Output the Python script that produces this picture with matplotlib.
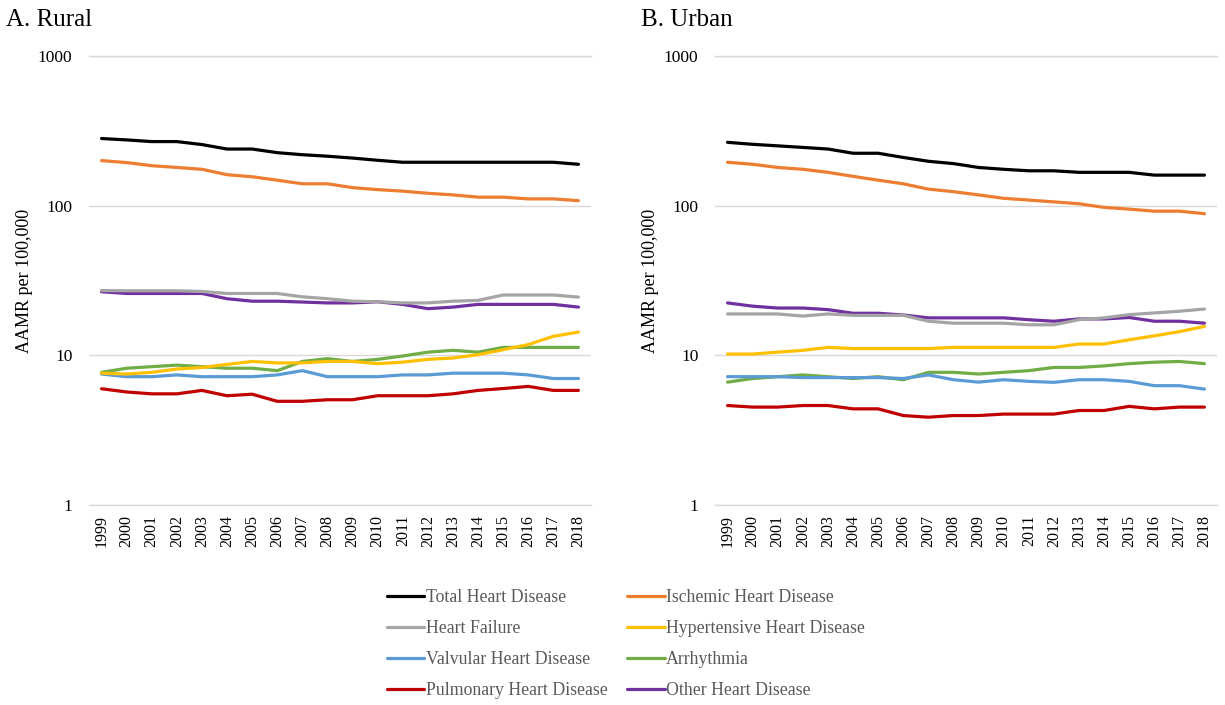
import matplotlib
matplotlib.use("Agg")
import matplotlib.pyplot as plt
from matplotlib.ticker import FixedLocator, FixedFormatter, NullLocator

plt.rcParams["font.family"] = ["Liberation Serif", "DejaVu Serif"]

years = list(range(1999, 2019))

# AAMR per 100,000
rural_total = [281, 275, 268, 268, 256, 239, 239, 226, 219, 214, 208, 201, 195, 195, 195, 195, 195, 195, 195, 189]
rural_ischemic = [200, 194, 185, 180, 175, 161, 156, 148, 140, 140, 132, 128, 125, 121, 118, 114, 114, 111, 111, 108]
rural_hf = [27.1, 27.0, 27.0, 27.0, 26.7, 25.9, 25.9, 25.9, 24.6, 23.9, 23.0, 22.8, 22.4, 22.4, 23.0, 23.3, 25.3, 25.3, 25.3, 24.5]
rural_hypertensive = [7.6, 7.5, 7.7, 8.1, 8.3, 8.7, 9.1, 8.9, 8.9, 9.1, 9.1, 8.8, 9.0, 9.4, 9.6, 10.1, 10.9, 11.8, 13.4, 14.3]
rural_valvular = [7.5, 7.2, 7.2, 7.4, 7.2, 7.2, 7.2, 7.4, 7.9, 7.2, 7.2, 7.2, 7.4, 7.4, 7.6, 7.6, 7.6, 7.4, 7.0, 7.0]
rural_arrhythmia = [7.7, 8.2, 8.4, 8.6, 8.4, 8.2, 8.2, 7.9, 9.1, 9.5, 9.1, 9.4, 9.9, 10.5, 10.8, 10.5, 11.3, 11.3, 11.3, 11.3]
rural_pulmonary = [5.98, 5.69, 5.53, 5.53, 5.83, 5.37, 5.5, 4.93, 4.93, 5.05, 5.05, 5.37, 5.37, 5.37, 5.53, 5.83, 6.0, 6.2, 5.83, 5.83]
rural_other = [26.6, 25.9, 25.9, 25.9, 25.9, 23.9, 23.0, 23.0, 22.7, 22.4, 22.4, 22.8, 21.9, 20.5, 21.0, 21.9, 21.9, 21.9, 21.9, 21.0]

urban_total = [265, 257, 251, 245, 239, 224, 224, 210, 198, 191, 180, 175, 171, 171, 167, 167, 167, 160, 160, 160]
urban_ischemic = [195, 189, 180, 175, 167, 157, 148, 140, 129, 124, 118, 112, 109, 106, 103, 97.4, 94.8, 91.9, 91.9, 88.4]
urban_hf = [18.9, 18.9, 18.9, 18.3, 18.9, 18.5, 18.5, 18.5, 16.9, 16.4, 16.4, 16.4, 16.0, 16.0, 17.3, 17.8, 18.7, 19.2, 19.7, 20.4]
urban_hypertensive = [10.2, 10.2, 10.5, 10.8, 11.3, 11.1, 11.1, 11.1, 11.1, 11.3, 11.3, 11.3, 11.3, 11.3, 11.9, 11.9, 12.7, 13.5, 14.4, 15.6]
urban_valvular = [7.2, 7.2, 7.2, 7.1, 7.1, 7.1, 7.1, 7.0, 7.4, 6.87, 6.62, 6.87, 6.7, 6.6, 6.87, 6.87, 6.7, 6.27, 6.27, 5.95]
urban_arrhythmia = [6.62, 7.0, 7.2, 7.4, 7.2, 7.0, 7.2, 6.87, 7.7, 7.7, 7.5, 7.7, 7.9, 8.3, 8.3, 8.5, 8.8, 9.0, 9.1, 8.8]
urban_pulmonary = [4.62, 4.51, 4.51, 4.62, 4.62, 4.39, 4.39, 3.96, 3.86, 3.96, 3.96, 4.05, 4.05, 4.05, 4.28, 4.28, 4.56, 4.39, 4.51, 4.51]
urban_other = [22.4, 21.3, 20.7, 20.7, 20.2, 19.1, 19.1, 18.6, 17.8, 17.8, 17.8, 17.8, 17.3, 16.9, 17.5, 17.5, 17.9, 16.9, 16.9, 16.4]

series_names = ["Total Heart Disease", "Ischemic Heart Disease", "Heart Failure",
                "Hypertensive Heart Disease", "Valvular Heart Disease", "Arrhythmia",
                "Pulmonary Heart Disease", "Other Heart Disease"]
colors = ["#000000", "#ED7D31", "#A5A5A5", "#FFC000", "#5B9BD5", "#70AD47", "#C00000", "#7030A0"]

rural = [rural_total, rural_ischemic, rural_hf, rural_hypertensive,
         rural_valvular, rural_arrhythmia, rural_pulmonary, rural_other]
urban = [urban_total, urban_ischemic, urban_hf, urban_hypertensive,
         urban_valvular, urban_arrhythmia, urban_pulmonary, urban_other]

fig = plt.figure(figsize=(12.25, 7.05), dpi=100)
ax_r = fig.add_axes([89 / 1225, 1 - 505 / 705, 502 / 1225, 449 / 705])
ax_u = fig.add_axes([715 / 1225, 1 - 505 / 705, 502 / 1225, 449 / 705])

# draw order so the top lines sit as in the original
draw_order = [7, 6, 5, 4, 3, 2, 1, 0]
handles = {}
for ax, data in [(ax_r, rural), (ax_u, urban)]:
    x = list(range(len(years)))
    for k in draw_order:
        (ln,) = ax.plot(x, data[k], color=colors[k], lw=2.3, solid_capstyle="round",
                        label=series_names[k])
        handles[k] = ln
    ax.set_yscale("log")
    ax.set_ylim(1, 1000)
    ax.set_xlim(-0.5, len(years) - 0.5)
    ax.yaxis.set_major_locator(FixedLocator([1, 10, 100, 1000]))
    ax.yaxis.set_major_formatter(FixedFormatter(["1", "10", "100", "1000"]))
    ax.yaxis.set_minor_locator(NullLocator())
    ax.set_xticks(x)
    ax.set_xticklabels([str(y) for y in years], rotation=90, fontsize=11.5)
    ax.tick_params(axis="y", length=0, pad=12, labelsize=12.5)
    ax.tick_params(axis="x", length=0, pad=7)
    ax.grid(axis="y", color="#D9D9D9", lw=1)
    ax.set_axisbelow(True)
    for side in ["left", "right"]:
        ax.spines[side].set_visible(False)
    for side in ["top", "bottom"]:
        ax.spines[side].set_color("#D9D9D9")
        ax.spines[side].set_linewidth(1)
    ax.set_ylabel("AAMR per 100,000", fontsize=13, labelpad=3.5)

fig.text(6 / 1225, 1 - 26 / 705, "A. Rural", fontsize=18, va="baseline", ha="left")
fig.text(641 / 1225, 1 - 26 / 705, "B. Urban", fontsize=18, va="baseline", ha="left")

# legend: two columns, filled column by column
leg_order = [0, 2, 4, 6, 1, 3, 5, 7]
leg = fig.legend([handles[k] for k in leg_order], [series_names[k] for k in leg_order],
                 ncol=2, loc="center", bbox_to_anchor=(626 / 1225, 1 - 644 / 705),
                 frameon=False, fontsize=12.8, handlelength=2.1, handletextpad=0.1,
                 columnspacing=1.1, labelspacing=0.78)
for t in leg.get_texts():
    t.set_color("#595959")

fig.savefig("out.png", dpi=100)
